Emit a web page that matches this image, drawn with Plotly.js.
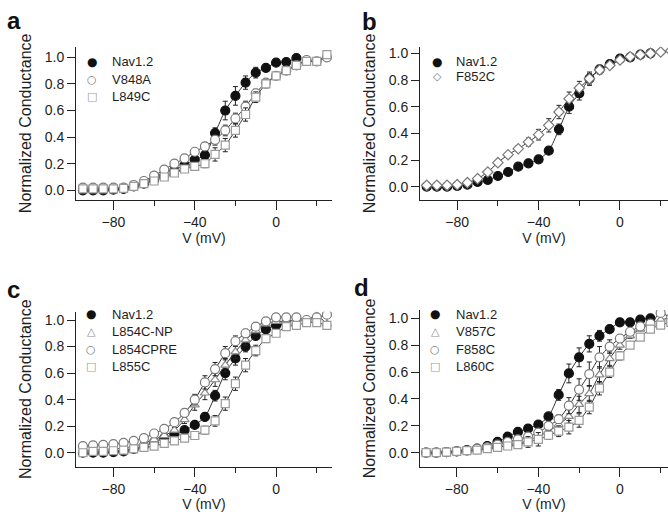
<!DOCTYPE html>
<html>
<head>
<meta charset="utf-8">
<script src="https://cdn.plot.ly/plotly-3.0.1.min.js"></script>
<style>html,body{margin:0;padding:0;background:#fff;overflow:hidden}#plot{width:668px;height:519px}</style>
</head>
<body>
<div id="plot"></div>
<script>
// ---------------- data ----------------
const voltage = [-95,-90,-85,-80,-75,-70,-65,-60,-55,-50,-45,-40,-35,-30,-25,-20,-15,-10,-5,0,5,10,15,20,25];
const xTicks = [-80,-40,0];
const xMinorTicks = [-60,-20,20];
const yTicks = [0,0.2,0.4,0.6,0.8,1.0];
const panelLetters = ['a','b','c','d'];

// panel a
const aNav = [0.00,0.00,0.00,0.005,0.01,0.03,0.05,0.08,0.11,0.15,0.19,0.23,0.265,0.43,0.60,0.71,0.81,0.885,0.92,0.96,0.965,0.995];
const aNavErr = [0,0,0,0,0,0,0,0,0,0,0,0.01,0.02,0.04,0.07,0.07,0.05,0.04,0.02,0.02,0.01,0.01];
const aV848A = [0.02,0.02,0.02,0.02,0.02,0.04,0.07,0.11,0.155,0.20,0.24,0.29,0.33,0.38,0.45,0.54,0.63,0.73,0.81,0.86,0.90,0.94,0.98,0.97,1.00];
const aV848AErr = [0,0,0,0,0,0,0,0,0,0.01,0.02,0.02,0.03,0.04,0.04,0.04,0.04,0.03,0.02,0.01,0.01,0,0,0,0];
const aL849C = [0.01,0.01,0.01,0.01,0.015,0.03,0.05,0.07,0.10,0.13,0.16,0.18,0.20,0.27,0.34,0.45,0.57,0.70,0.80,0.86,0.90,0.94,0.97,0.97,1.02];
const aL849CErr = [0,0,0,0,0,0,0,0,0,0.01,0.01,0.02,0.03,0.05,0.05,0.05,0.05,0.04,0.03,0.02,0.01,0.01,0,0,0];

// panel b
const bNav = [0.00,0.00,0.00,0.005,0.015,0.035,0.05,0.08,0.11,0.15,0.175,0.205,0.27,0.43,0.60,0.70,0.81,0.88,0.92,0.96,0.97,0.99,1.00];
const bNavErr = [0,0,0,0,0,0,0,0,0,0,0,0,0.01,0.04,0.05,0.05,0.04,0.03,0.01,0.01,0,0,0];
const bF852C = [0.01,0.01,0.01,0.015,0.03,0.06,0.11,0.18,0.24,0.285,0.335,0.39,0.46,0.56,0.66,0.74,0.81,0.875,0.91,0.95,0.975,0.99,1.00,1.01,1.02];
const bF852CErr = [0,0,0,0,0,0,0,0,0.01,0.02,0.03,0.04,0.05,0.05,0.05,0.05,0.05,0.03,0.02,0.01,0,0,0,0,0];

// panel c
const cNav = [0.00,0.00,0.00,0.005,0.01,0.03,0.05,0.08,0.11,0.14,0.17,0.21,0.27,0.43,0.60,0.71,0.80,0.88,0.93,0.96,0.97];
const cNavErr = [0,0,0,0,0,0,0,0,0,0,0.01,0.02,0.03,0.04,0.05,0.05,0.04,0.03,0.02,0.01,0];
const cL854CNP = [0.02,0.02,0.025,0.03,0.035,0.05,0.07,0.10,0.13,0.17,0.25,0.36,0.45,0.55,0.66,0.76,0.85,0.92,0.97,0.99,0.99,1.00,1.00,1.03,0.97];
const cL854CNPErr = [0,0,0,0,0,0,0,0,0.01,0.02,0.03,0.04,0.05,0.05,0.05,0.05,0.04,0.03,0.02,0.01,0,0,0,0,0];
const cL854CPRE = [0.05,0.055,0.06,0.065,0.075,0.09,0.11,0.145,0.18,0.23,0.30,0.40,0.53,0.63,0.75,0.84,0.90,0.95,0.99,1.02,1.02,1.02,1.00,1.02,1.04];
const cL854CPREErr = [0,0,0,0,0,0,0,0,0.01,0.02,0.03,0.04,0.05,0.05,0.05,0.04,0.03,0.02,0.01,0.01,0,0,0,0,0];
const cL855C = [0.00,0.01,0.01,0.015,0.02,0.03,0.04,0.05,0.07,0.09,0.11,0.13,0.17,0.24,0.37,0.52,0.66,0.77,0.86,0.90,0.95,0.96,0.98,0.98,0.96];
const cL855CErr = [0,0,0,0,0,0,0,0,0,0.01,0.01,0.02,0.03,0.04,0.05,0.05,0.05,0.04,0.03,0.02,0.01,0,0,0,0];

// panel d
const dNav = [0.00,0.00,0.005,0.01,0.02,0.03,0.05,0.08,0.12,0.155,0.18,0.21,0.27,0.43,0.59,0.71,0.81,0.87,0.92,0.97,0.97,0.99,1.00];
const dNavErr = [0,0,0,0,0,0,0,0,0,0,0,0.01,0.02,0.04,0.07,0.07,0.06,0.04,0.02,0.01,0.01,0,0];
const dV857C = [0.00,0.00,0.005,0.01,0.015,0.02,0.03,0.04,0.06,0.07,0.09,0.12,0.16,0.21,0.27,0.36,0.44,0.58,0.70,0.80,0.87,0.92,0.96,0.99,1.00];
const dV857CErr = [0,0,0,0,0,0,0,0,0.01,0.02,0.03,0.05,0.04,0.04,0.05,0.06,0.06,0.06,0.05,0.03,0.02,0.01,0,0,0];
const dF858C = [0.00,0.00,0.005,0.01,0.015,0.03,0.04,0.06,0.08,0.10,0.12,0.15,0.20,0.25,0.35,0.47,0.585,0.71,0.79,0.85,0.90,0.94,0.96,1.04,1.00];
const dF858CErr = [0,0,0,0,0,0,0,0,0,0.01,0.02,0.02,0.03,0.03,0.06,0.08,0.09,0.08,0.05,0.03,0.02,0.01,0,0,0];
const dL860C = [0.00,0.00,0.005,0.01,0.015,0.02,0.03,0.04,0.05,0.06,0.08,0.10,0.13,0.16,0.19,0.24,0.34,0.48,0.60,0.72,0.80,0.86,0.92,0.95,0.97];
const dL860CErr = [0,0,0,0,0,0,0,0,0,0.02,0.04,0.05,0.03,0.04,0.05,0.05,0.05,0.05,0.04,0.03,0.02,0.01,0,0,0];

// ---------------- styles ----------------
const STY = {
  nav:  {symbol:'circle', fill:'#111', line:'#111', size:9, glyph:'\u25CF', gcol:'#111'},
  circ: {symbol:'circle', fill:'#fff', line:'#7a7a7a', size:9, glyph:'\u25CB', gcol:'#7a7a7a'},
  sq:   {symbol:'square', fill:'#fff', line:'#9a9a9a', size:8, glyph:'\u25A1', gcol:'#9a9a9a'},
  tri:  {symbol:'triangle-up', fill:'#fff', line:'#8a8a8a', size:8, glyph:'\u25B3', gcol:'#8a8a8a'},
  dia:  {symbol:'diamond', fill:'#fff', line:'#7a7a7a', size:8, glyph:'\u25C7', gcol:'#7a7a7a'}
};

const panels = [
  {series:[['Nav1.2',aNav,aNavErr,'nav'],['V848A',aV848A,aV848AErr,'circ'],['L849C',aL849C,aL849CErr,'sq']]},
  {series:[['Nav1.2',bNav,bNavErr,'nav'],['F852C',bF852C,bF852CErr,'dia']]},
  {series:[['Nav1.2',cNav,cNavErr,'nav'],['L854C-NP',cL854CNP,cL854CNPErr,'tri'],['L854CPRE',cL854CPRE,cL854CPREErr,'circ'],['L855C',cL855C,cL855CErr,'sq']]},
  {series:[['Nav1.2',dNav,dNavErr,'nav'],['V857C',dV857C,dV857CErr,'tri'],['F858C',dF858C,dF858CErr,'circ'],['L860C',dL860C,dL860CErr,'sq']]}
];

const W = 668, H = 519;
// pixel geometry of each panel: [left, right, top, bottom], x range, y range
const geo = [
  {l:76,  r:332, t:46.7,  b:200,   xr:[-98.4,27.5], yr:[-0.073,1.08]},
  {l:420, r:668, t:46.7,  b:200,   xr:[-98.3,23.6], yr:[-0.10,1.05]},
  {l:76,  r:332, t:311.7, b:466.7, xr:[-98.4,27.5], yr:[-0.105,1.0625]},
  {l:420, r:668, t:310,   b:466.7, xr:[-98.0,23.6], yr:[-0.104,1.062]}
];
// legend anchors: glyph x, text x, row ys
const leg = [
  {gx:92,  tx:111, ys:[62,79,96]},
  {gx:437, tx:455, ys:[62,76]},
  {gx:91,  tx:111, ys:[314,331.5,349,366]},
  {gx:435, tx:455, ys:[314,331.5,349,366]}
];
const letterPos = [[14,20],[369,22],[13,289],[361,288]];

const FONT = 'Liberation Sans, Arial, Helvetica, sans-serif';
const TXT = '#1e1e1e';
const traces = [];
const layout = {
  width:W, height:H, margin:{l:0,r:0,t:0,b:0},
  paper_bgcolor:'#fff', plot_bgcolor:'#fff', showlegend:false,
  font:{family:FONT, size:14, color:TXT},
  annotations:[]
};

panels.forEach((p, i) => {
  const n = i === 0 ? '' : String(i+1);
  const g = geo[i];
  layout['xaxis'+n] = {
    domain:[g.l/W, g.r/W], range:g.xr, anchor:'y'+n,
    showline:true, linecolor:'#222', linewidth:1, mirror:false,
    showgrid:false, zeroline:false,
    tickmode:'array', tickvals:xTicks, ticks:'outside', ticklen:9, tickwidth:1, tickcolor:'#222',
    minor:{tickmode:'array', tickvals:xMinorTicks, ticks:'outside', ticklen:5, tickwidth:1, tickcolor:'#222', showgrid:false},
    tickfont:{size:14, color:TXT, family:FONT},
    title:{text:'V (mV)', font:{size:14, color:TXT, family:FONT}, standoff:3}
  };
  layout['yaxis'+n] = {
    domain:[1-g.b/H, 1-g.t/H], range:g.yr, anchor:'x'+n,
    showline:true, linecolor:'#222', linewidth:1,
    showgrid:false, zeroline:false,
    tickmode:'array', tickvals:yTicks, tickformat:'.1f', ticks:'outside', ticklen:8, tickwidth:1, tickcolor:'#222',
    tickfont:{size:14, color:TXT, family:FONT},
    title:{text:'Normalized Conductance', font:{size:16, color:TXT, family:FONT}, standoff:9}
  };
  p.series.forEach((s, k) => {
    const [name, vals, errs, sk] = s;
    const st = STY[sk];
    traces.push({
      type:'scatter', mode:'lines+markers', name:name,
      x:voltage.slice(0, vals.length), y:vals,
      xaxis:'x'+n, yaxis:'y'+n,
      line:{color:'#333', width:1, shape:'spline', smoothing:0.8},
      marker:{symbol:st.symbol, size:st.size, color:st.fill, line:{color:st.line, width:1.2}},
      error_y:{type:'data', array:errs, visible:true, color:'#222', thickness:1, width:2.5},
      cliponaxis:true
    });
    const lg = leg[i];
    layout.annotations.push({xref:'paper', yref:'paper', x:lg.gx/W, y:1-lg.ys[k]/H, xanchor:'center', yanchor:'middle',
      text:st.glyph, showarrow:false, borderpad:0, font:{family:'DejaVu Sans', size:sk==='nav'?12:11, color:st.gcol}});
    layout.annotations.push({xref:'paper', yref:'paper', x:lg.tx/W, y:1-lg.ys[k]/H, xanchor:'left', yanchor:'middle',
      text:name, showarrow:false, borderpad:0, font:{family:FONT, size:13, color:TXT}});
  });
  layout.annotations.push({xref:'paper', yref:'paper', x:letterPos[i][0]/W, y:1-letterPos[i][1]/H, xanchor:'center', yanchor:'middle',
    text:'<b>'+panelLetters[i]+'</b>', showarrow:false, font:{family:FONT, size:24, color:'#111'}});
});

Plotly.newPlot('plot', traces, layout, {staticPlot:true, displayModeBar:false});
</script>
</body>
</html>
